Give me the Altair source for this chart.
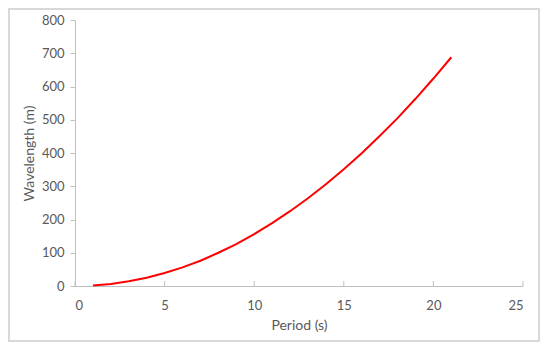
import altair as alt
import pandas as pd

period = [1, 2, 3, 4, 5, 6, 7, 8, 9, 10, 11, 12, 13, 14, 15, 16, 17, 18, 19, 20, 21]
wavelength = [1.6, 6.2, 14, 25, 39, 56, 76, 100, 126, 156, 189, 225, 264, 306, 351,
              399, 451, 505, 563, 624, 688]
x_ticks = [0, 5, 10, 15, 20, 25]
y_ticks = [0, 100, 200, 300, 400, 500, 600, 700, 800]

df = pd.DataFrame({"Period": period, "Wavelength": wavelength})
tick_df = pd.DataFrame({"t": x_ticks})

W, H = 448, 266
FONT = "Lato"
GRAY = "#595959"
AXC = "#bfbfbf"

xscale = alt.Scale(domain=[0, 25], nice=False)
yscale = alt.Scale(domain=[0, 800], nice=False)

line = alt.Chart(df).mark_line(color="#ff0000", strokeWidth=2).encode(
    x=alt.X("Period:Q", scale=xscale,
            axis=alt.Axis(values=x_ticks, title="Period (s)", grid=False, ticks=False,
                          domainColor=AXC, labelColor=GRAY, titleColor=GRAY,
                          labelFont=FONT, titleFont=FONT, labelFontSize=13,
                          titleFontSize=14, titleFontWeight="normal", labelPadding=13,
                          titlePadding=6)),
    y=alt.Y("Wavelength:Q", scale=yscale,
            axis=alt.Axis(values=y_ticks, title="Wavelength (m)", grid=False,
                          tickSize=5, tickColor=AXC, domainColor=AXC,
                          labelColor=GRAY, titleColor=GRAY, labelFont=FONT,
                          titleFont=FONT, labelFontSize=13, titleFontSize=14,
                          titleFontWeight="normal", labelPadding=6, titlePadding=5)),
)

xt = alt.Chart(tick_df).mark_rule(color=AXC, strokeWidth=1).encode(
    x=alt.X("t:Q", scale=xscale),
    y=alt.value(H),
    y2=alt.value(H - 5),
)

border = alt.Chart(tick_df).mark_rect(fill=None, stroke="#d9d9d9", strokeWidth=1.5).encode(
    x=alt.value(-66), x2=alt.value(W + 16), y=alt.value(-11), y2=alt.value(H + 55)
)

chart = alt.layer(border, xt, line).properties(
    width=W, height=H,
    autosize=alt.AutoSizeParams(type="none"),
    padding={"left": 67, "top": 12, "right": 18, "bottom": 57},
).configure_view(stroke=None)

chart.save("out.html", embed_options={"renderer": "svg", "actions": False})
